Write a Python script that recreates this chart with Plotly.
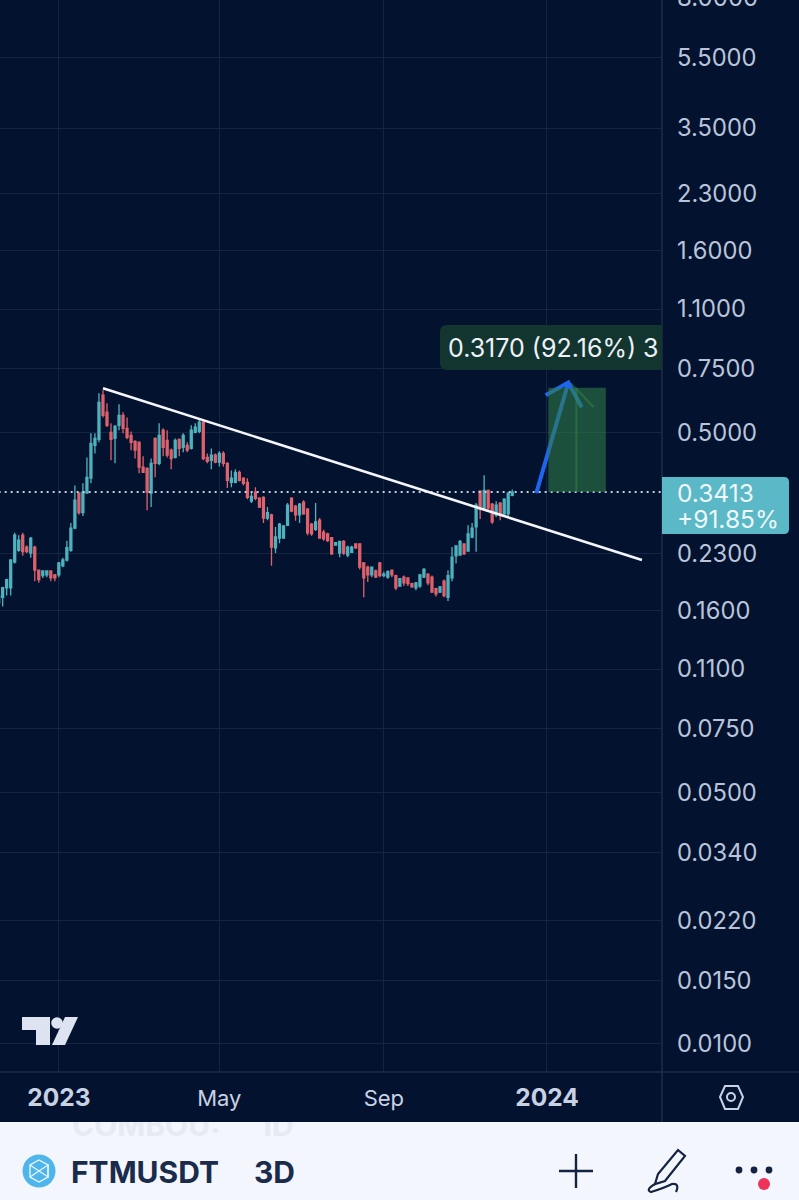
import pandas as pd
import plotly.graph_objects as go

W, H = 799, 1200
PLOT_R, PLOT_B, AXIS_B = 662, 1072, 1122

BG = "#03122f"
GRID = "#15253f"
UP = "#4fb3bf"
DOWN = "#e0626c"
TICK = "#b9c4da"

# 3D candles
dates = pd.date_range("2022-11-17", periods=129, freq="3D")
opens = [
    .168, .174, .185, .185, .218, .235, .259, .240, .231, .240,
    .207, .200, .201, .206, .201, .201, .213, .221, .235, .271,
    .339, .299, .339, .373, .460, .478, .634, .569, .500, .481,
    .523, .557, .513, .490, .472, .469, .400, .397, .339, .481,
    .410, .507, .475, .446, .426, .478, .454, .460, .451, .500,
    .503, .534, .426, .418, .432, .413, .437, .410, .363, .363,
    .387, .373, .363, .322, .341, .328, .330, .289, .295, .239,
    .254, .254, .276, .328, .312, .295, .320, .306, .278, .269,
    .285, .264, .261, .255, .243, .231, .249, .228, .232, .245,
    .245, .217, .211, .201, .206, .217, .200, .198, .207, .200,
    .187, .198, .197, .190, .185, .187, .198, .202, .198, .184,
    .180, .193, .174, .197, .227, .228, .245, .234, .256, .273,
    .343, .308, .345, .316, .295, .318, .297, .297, .334,
]
highs = [
    .177, .186, .196, .222, .263, .259, .263, .243, .256, .242,
    .208, .207, .207, .207, .202, .218, .224, .250, .280, .356,
    .341, .361, .426, .497, .497, .642, .654, .602, .530, .523,
    .598, .569, .550, .503, .475, .472, .429, .400, .423, .484,
    .530, .513, .507, .451, .481, .481, .497, .469, .523, .530,
    .544, .537, .437, .451, .437, .443, .443, .413, .392, .395,
    .392, .375, .373, .341, .352, .330, .332, .310, .297, .273,
    .280, .276, .318, .330, .314, .318, .324, .308, .280, .318,
    .289, .268, .263, .256, .248, .250, .251, .242, .242, .246,
    .246, .218, .213, .211, .208, .218, .205, .207, .208, .201,
    .197, .200, .198, .191, .192, .202, .210, .203, .200, .185,
    .187, .195, .207, .240, .243, .251, .246, .276, .280, .318,
    .345, .380, .347, .318, .322, .320, .328, .341, .347,
]
lows = [
    .162, .164, .176, .176, .216, .233, .227, .231, .224, .193,
    .191, .197, .198, .193, .193, .198, .211, .219, .233, .269,
    .295, .293, .339, .361, .437, .469, .550, .517, .418, .410,
    .507, .497, .478, .446, .423, .385, .387, .304, .310, .375,
    .405, .429, .426, .395, .423, .429, .440, .440, .448, .497,
    .497, .418, .410, .395, .410, .402, .402, .350, .352, .361,
    .365, .356, .326, .318, .324, .308, .280, .285, .213, .231,
    .246, .254, .275, .300, .284, .280, .295, .259, .258, .266,
    .253, .250, .248, .228, .242, .225, .228, .225, .231, .237,
    .208, .174, .192, .198, .197, .198, .198, .196, .198, .182,
    .186, .187, .187, .185, .182, .185, .197, .188, .179, .175,
    .179, .174, .170, .193, .216, .227, .228, .233, .254, .233,
    .287, .304, .304, .278, .291, .285, .295, .293, .332,
]
closes = [
    .176, .185, .195, .221, .259, .251, .233, .233, .254, .207,
    .195, .206, .206, .197, .197, .217, .221, .239, .271, .324,
    .299, .341, .375, .466, .481, .606, .557, .523, .478, .520,
    .557, .513, .484, .469, .446, .400, .387, .341, .410, .410,
    .490, .454, .432, .423, .475, .451, .490, .446, .507, .517,
    .534, .423, .415, .432, .413, .437, .410, .368, .373, .387,
    .368, .361, .330, .332, .328, .310, .289, .299, .240, .256,
    .278, .275, .314, .302, .295, .316, .297, .263, .261, .282,
    .254, .253, .250, .230, .247, .249, .231, .240, .240, .239,
    .211, .197, .201, .211, .198, .200, .202, .205, .201, .185,
    .196, .191, .190, .186, .191, .201, .208, .191, .180, .178,
    .186, .176, .200, .225, .242, .249, .230, .261, .271, .314,
    .306, .345, .308, .282, .314, .295, .326, .339, .3413,
]

price_ticks = [5.5, 3.5, 2.3, 1.6, 1.1, .75, .5, .23, .16, .11, .075, .05, .034, .022, .015, .01]
price_labels = ["5.5000", "3.5000", "2.3000", "1.6000", "1.1000", "0.7500", "0.5000", "0.2300",
                "0.1600", "0.1100", "0.0750", "0.0500", "0.0340", "0.0220", "0.0150", "0.0100"]
time_ticks = ["2023-01-01", "2023-05-01", "2023-09-01", "2024-01-01"]
time_labels = ['<span style="font-size:24.5px"><b>2023</b></span>', "May", "Sep",
               '<span style="font-size:24.5px"><b>2024</b></span>']

last_price = 0.3413
trend_x = ["2023-02-03", "2024-03-12"]
trend_y = [.663, .221]
arrow_x = ["2023-12-24", "2024-01-17", "2023-12-31", "2024-01-17", "2024-01-27"]
arrow_y = [.339, .688, .634, .688, .587]
range_x = ["2024-01-02", "2024-01-02", "2024-02-14", "2024-02-14", "2024-01-02"]
range_y = [.3413, .665, .665, .3413, .3413]
mid_x = ["2024-01-23", "2024-01-23", None, "2024-01-19", "2024-02-05"]
mid_y = [.3413, .665, None, .684, .587]


def px(x, y):
    return x / W, 1 - y / H


def path(points, close=True):
    cmds = []
    for i, (x, y) in enumerate(points):
        u, v = px(x, y)
        cmds.append(("M" if i == 0 else "L") + f"{u:.5f},{v:.5f}")
    return " ".join(cmds) + (" Z" if close else "")


def p(x, y):
    u, v = px(x, y)
    return f"{u:.5f},{v:.5f}"


def rounded(x0, y0, x1, y1, rl, rr):
    # corners come out as short Q curves, paper coords
    return (f"M{p(x0 + rl, y0)} L{p(x1 - rr, y0)} Q{p(x1, y0)} {p(x1, y0 + rr)} "
            f"L{p(x1, y1 - rr)} Q{p(x1, y1)} {p(x1 - rr, y1)} "
            f"L{p(x0 + rl, y1)} Q{p(x0, y1)} {p(x0, y1 - rl)} L{p(x0, y0 + rl)} Q{p(x0, y0)} {p(x0 + rl, y0)} Z")


def shape(d, fill=None, line=None, width=0, layer="above"):
    return dict(type="path", path=d, xref="paper", yref="paper", layer=layer,
                fillcolor=fill or "rgba(0,0,0,0)", line=dict(color=line or "rgba(0,0,0,0)", width=width))


def circle(x, y, r, fill=None, line=None, width=0):
    u0, v0 = px(x - r, y - r)
    u1, v1 = px(x + r, y + r)
    return dict(type="circle", xref="paper", yref="paper", x0=u0, x1=u1, y0=v0, y1=v1, layer="above",
                fillcolor=fill or "rgba(0,0,0,0)", line=dict(color=line or "rgba(0,0,0,0)", width=width))


def label(x, y, text, size, color, family="Inter"):
    u, v = px(x, y)
    return dict(x=u, y=v, xref="paper", yref="paper", text=text, showarrow=False, xanchor="left", yanchor="middle",
                font=dict(family=family, size=size, color=color), borderpad=0)


fig = go.Figure()

fig.add_trace(go.Candlestick(
    x=dates, open=opens, high=highs, low=lows, close=closes,
    increasing=dict(line=dict(color=UP, width=1.3), fillcolor=UP),
    decreasing=dict(line=dict(color=DOWN, width=1.3), fillcolor=DOWN),
    showlegend=False,
))

# last price dotted line
fig.add_trace(go.Scatter(x=[dates[0], "2024-03-27"], y=[last_price, last_price], mode="lines",
                         line=dict(color="#c4cedf", width=2, dash="2px 4px"), showlegend=False))
# hand drawn trend line and arrow
fig.add_trace(go.Scatter(x=trend_x, y=trend_y, mode="lines", line=dict(color="#f4f6fa", width=2.6), showlegend=False))
fig.add_trace(go.Scatter(x=arrow_x, y=arrow_y, mode="lines", line=dict(color="#1f66ee", width=4), showlegend=False))
# price range box
fig.add_trace(go.Scatter(x=range_x, y=range_y, mode="lines", fill="toself", fillcolor="rgba(46,125,70,0.58)",
                         line=dict(width=0), showlegend=False))
fig.add_trace(go.Scatter(x=mid_x, y=mid_y, mode="lines", line=dict(color="rgba(60,140,75,0.45)", width=2),
                         showlegend=False))

# ghost row scrolling under the bottom bar, clipped by its own hidden axes
fig.add_trace(go.Scatter(x=[72, 259], y=[72, 72], text=["<b>COMBOU:</b>", "<b>1D</b>"], mode="text",
                         textposition="middle right", textfont=dict(family="Inter", size=30, color="#e6eaf2"),
                         xaxis="x2", yaxis="y2", cliponaxis=True, showlegend=False))

shapes = [
    # bottom bar
    shape(path([(0, AXIS_B), (W, AXIS_B), (W, H), (0, H)]), fill="#f3f6fd", layer="below"),
    # pane borders
    shape(path([(PLOT_R, 0), (PLOT_R, AXIS_B)], close=False), line="#1c2c4a", width=1.5),
    shape(path([(0, PLOT_B), (W, PLOT_B)], close=False), line="#1c2c4a", width=1.5),
    # measure label and last price tag
    shape(rounded(440, 325, PLOT_R, 370, 7, 0), fill="#12352f"),
    shape(rounded(PLOT_R, 477, 789, 534, 0, 5), fill="#5bb8c6"),
    # tradingview mark
    shape(path([(22, 1017), (50, 1017), (50, 1045), (36, 1045), (36, 1030), (22, 1030)]), fill="#dde3f0"),
    circle(57, 1023, 5.8, fill="#dde3f0"),
    shape(path([(65, 1017), (78, 1017), (65, 1045), (52, 1045)]), fill="#dde3f0"),
    # settings hexagon
    shape(path([(720, 1097), (725, 1086), (738, 1086), (743, 1097), (738, 1109), (725, 1109)]), line="#c9d3e6", width=2),
    circle(731, 1097, 4, line="#c9d3e6", width=2),
    # fantom coin
    circle(39, 1171, 16.5, fill="#4fb6ec"),
    shape(path([(39, 1160), (48, 1165), (48, 1177), (39, 1182), (30, 1177), (30, 1165)]), line="#e9f6fd", width=1.4),
    shape(path([(30, 1165), (39, 1171), (48, 1165), (48, 1177), (39, 1171), (30, 1177)], close=False), line="#e9f6fd", width=1.2),
    # plus
    shape(path([(559, 1171), (593, 1171)], close=False), line="#14233f", width=2.4),
    shape(path([(576, 1154), (576, 1188)], close=False), line="#14233f", width=2.4),
    # pen
    shape(path([(678, 1150), (685, 1156), (665, 1181), (655, 1184), (658, 1174)]), line="#14233f", width=2.2),
    shape(f"M{p(655, 1184)} Q{p(645, 1190)} {p(651, 1192)} Q{p(664, 1188)} {p(672, 1184)} Q{p(680, 1183)} {p(676, 1192)}",
          line="#14233f", width=2.2),
    # more menu
    circle(739, 1170, 3.4, fill="#14233f"),
    circle(754, 1170, 3.4, fill="#14233f"),
    circle(769, 1170, 3.4, fill="#14233f"),
    circle(764, 1184, 6, fill="#f0325a"),
]

annotations = [
    # top tick sits just past the pane edge, so it can't be a real tick
    label(676, -2, "8.0000", 24, TICK),
    label(447, 348, "0.3170 (92.16%) 3", 25, "#eef2f6"),
    label(675.5, 492.5, "0.3413", 24.5, "#eef7f9"),
    label(675.5, 518.5, "+91.85%", 24.5, "#eef7f9"),
    label(70, 1172, "<b>FTMUSDT</b>", 30, "#1a2b4b"),
    label(253, 1172, "<b>3D</b>", 30, "#1a2b4b"),
]

fig.update_layout(
    width=W, height=H,
    margin=dict(l=0, r=0, t=0, b=0),
    paper_bgcolor=BG, plot_bgcolor=BG,
    showlegend=False,
    shapes=shapes, annotations=annotations,
    xaxis=dict(
        domain=[0, PLOT_R / W], type="date", range=["2022-11-18", "2024-03-27"],
        rangeslider=dict(visible=False), tickmode="array", tickvals=time_ticks, ticktext=time_labels,
        showgrid=True, gridcolor=GRID, gridwidth=1, zeroline=False, showline=False, ticks="",
        tickfont=dict(family="Inter", size=22, color="#c8d2e4"), ticklabelstandoff=11, anchor="y",
    ),
    yaxis=dict(
        domain=[(H - PLOT_B) / H, 1], type="log", range=[-2.078, 0.9], side="right",
        tickmode="array", tickvals=price_ticks, ticktext=price_labels,
        showgrid=True, gridcolor=GRID, gridwidth=1, zeroline=False, showline=False, ticks="",
        tickfont=dict(family="Inter", size=23.7, color=TICK), ticklabelstandoff=14, anchor="x",
    ),
    xaxis2=dict(domain=[0, 1], range=[0, W], visible=False, anchor="y2"),
    yaxis2=dict(domain=[0, (H - AXIS_B) / H], range=[0, H - AXIS_B], visible=False, anchor="x2"),
)

fig.write_html("out.html", config=dict(displayModeBar=False), post_script="document.body.style.margin='0';")
